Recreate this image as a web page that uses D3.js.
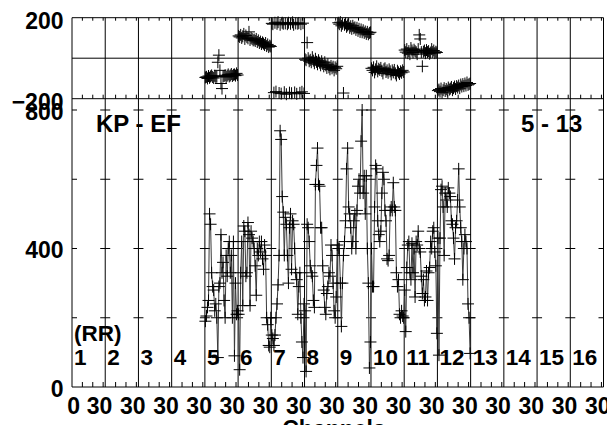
<!DOCTYPE html>
<html><head><meta charset="utf-8">
<script src="https://cdn.jsdelivr.net/npm/d3@7"></script>
<style>html,body{margin:0;padding:0;background:#fff;overflow:hidden}
text{font-family:"Liberation Sans",Arial,sans-serif;font-weight:bold;fill:#000}</style>
</head><body><svg id="c" width="607" height="425"></svg>
<script>
// ---- data ----
const ifNumbers = [1,2,3,4,5,6,7,8,9,10,11,12,13,14,15,16];
const dataIFs = [5,6,7,8,9,10,11,12];
const channelsPerIF = 32;
const xTickLabels = ["0","30","30","30","30","30","30","30","30","30","30","30","30","30","30","30","30"];
const yTopTicks = [-200, 200];
const yBotTicks = [0, 200, 400, 600, 800];
const yBotLabels = ["0", "", "400", "", "800"];

// amplitude per IF (channels 0..31)
const amp5  = [190,205,230,250,500,470,330,290,280,220,240,200,85,290,300,440,330,360,250,200,380,320,400,420,330,380,200,420,90,300,210,220];
const amp6  = [210,50,330,420,235,465,450,320,330,475,440,235,450,430,420,400,350,265,400,380,420,390,420,370,340,410,380,200,180,120,115,200];
const amp7  = [150,140,120,150,200,240,295,380,740,715,550,505,380,490,470,380,300,460,500,340,480,470,400,330,310,210,290,330,200,130,85,240];
const amp8  = [220,45,470,460,420,350,330,320,250,230,585,640,690,585,580,460,460,350,280,230,210,270,290,330,320,410,380,300,220,200,260,410];
const amp9  = [400,400,300,175,300,380,420,480,630,690,520,500,460,400,420,480,500,400,510,580,600,560,710,800,560,610,500,610,400,300,55,130];
const amp10 = [400,290,290,520,640,630,480,440,420,450,560,620,600,510,480,370,365,380,510,520,510,590,520,510,330,290,310,210,200,220,205,200];
const amp11 = [280,160,345,410,420,330,310,415,330,400,260,420,410,450,400,390,320,270,310,250,260,335,250,330,345,420,400,450,460,390,350,155];
const amp12 = [430,92,430,570,580,520,380,560,540,520,575,560,550,480,470,430,370,460,480,540,630,520,460,420,310,400,440,420,400,240,200,97];

// phase per IF (degrees)
const ph5  = [-95,-92,-100,-88,-97,-90,-85,-93,-98,-87,-92,-91,-20,15,-60,-125,-150,-90,-88,-84,-93,-86,-80,-90,-85,-78,-88,-82,-80,-86,-75,-83];
const ph6  = [110,105,115,100,108,120,95,112,104,98,130,90,100,95,88,92,85,95,80,88,75,82,70,78,72,65,75,60,68,55,62,58];
const ph7  = [172,168,-170,175,-165,170,178,-172,165,-175,175,170,-168,172,-178,168,175,-170,170,-173,177,165,-169,172,-176,170,174,-171,168,-166,173,-174];
const ph8  = [-5,-10,77,0,-15,-8,-20,5,-12,-25,-3,-18,-30,-10,-22,-35,-15,-28,-40,-20,-35,-48,-30,-45,-55,-38,-50,-42,-60,-45,-52,-40];
const ph9  = [175,168,178,160,170,-172,165,172,155,162,168,150,158,145,160,148,152,140,150,135,145,130,142,128,138,125,132,120,130,118,125,128];
const ph10 = [-50,-60,-45,-70,-55,-40,-65,-52,-58,-48,-62,-75,-55,-50,-68,-60,-72,-55,-65,-80,-60,-70,-58,-75,-85,-62,-70,-78,-65,-72,-60,-68];
const ph11 = [40,30,45,25,35,20,50,38,28,42,35,30,20,45,115,95,30,-40,32,38,25,40,30,35,22,28,45,30,38,25,32,28];
const ph12 = [-160,-155,-165,-150,-170,-158,-148,-162,-152,-160,-145,-155,-150,-142,-158,-148,-140,-152,-138,-145,-135,-148,-130,-140,-128,-138,-125,-135,-120,-132,-128,-125];

const ampSeries = [amp5,amp6,amp7,amp8,amp9,amp10,amp11,amp12];
const phSeries  = [ph5,ph6,ph7,ph8,ph9,ph10,ph11,ph12];

// ---- layout ----
const svg = d3.select("#c");
const L = 72, R = 603.5;
const x  = d3.scaleLinear().domain([0, 16*channelsPerIF]).range([L, R]);
const yT = d3.scaleLinear().domain([-200, 200]).range([98.7, 17.7]);
const yB = d3.scaleLinear().domain([0, 800]).range([387, 110]);

const bounds = d3.range(0, 17).map(i => i*channelsPerIF);
const minor = [];
d3.range(0,16).forEach(g => [10,20,30].forEach(m => minor.push(g*channelsPerIF + m)));

const frame = svg.append("g").attr("stroke","#000").attr("stroke-width",1).attr("fill","none");
frame.selectAll(".vb").data(bounds).join("line")
  .attr("x1", d=>x(d)).attr("x2", d=>x(d)).attr("y1", yT(200)).attr("y2", yB(0));
[yT(200), yT(0), yT(-200), yB(0)].forEach(yy =>
  frame.append("line").attr("x1",L).attr("x2",R).attr("y1",yy).attr("y2",yy));
frame.selectAll(".mt").data(minor).join("line")
  .attr("x1", d=>x(d)).attr("x2", d=>x(d)).attr("y1", yT(200)).attr("y2", yT(200)+3);
frame.selectAll(".mb").data(minor).join("line")
  .attr("x1", d=>x(d)).attr("x2", d=>x(d)).attr("y1", yT(-200)).attr("y2", yT(-200)-4);
frame.selectAll(".ma").data(minor).join("line")
  .attr("x1", d=>x(d)).attr("x2", d=>x(d)).attr("y1", yB(0)).attr("y2", yB(0)-5);
const crossT = [];
bounds.forEach(b => [200,400,600,800].forEach(v => crossT.push({b, v})));
frame.selectAll(".ct").data(crossT).join("line")
  .attr("x1", d => Math.max(L, x(d.b)-5)).attr("x2", d => Math.min(R, x(d.b)+5))
  .attr("y1", d => yB(d.v)).attr("y2", d => yB(d.v));

// ---- axes labels ----
const fs = "23px";
const axL = svg.append("g").attr("transform",`translate(${L},0)`)
  .call(d3.axisLeft(yB).tickValues(yBotTicks).tickSize(0).tickPadding(8.5).tickFormat((d,i)=>yBotLabels[i]));
axL.select(".domain").remove();
axL.selectAll("text").attr("font-size",fs).attr("dy","0.4em").attr("font-family",null);
const axT = svg.append("g").attr("transform",`translate(${L},0)`)
  .call(d3.axisLeft(yT).tickValues(yTopTicks).tickSize(0).tickPadding(8.5));
axT.select(".domain").remove();
axT.selectAll("text").attr("font-size",fs).attr("dy","0.48em").attr("font-family",null);

const labelPos = bounds.map((b,i) => i===0 ? b+1 : (i-1)*channelsPerIF + 26);
const axB = svg.append("g").attr("transform",`translate(0,${yB(0)})`)
  .call(d3.axisBottom(x).tickValues(labelPos).tickSize(0).tickPadding(10.7).tickFormat((d,i)=>xTickLabels[i]));
axB.select(".domain").remove();
axB.selectAll("text").attr("font-size",fs).attr("font-family",null);

svg.append("text").attr("x", 334).attr("y", 437).attr("text-anchor","middle")
  .attr("font-size","23px").text("Channels");

// ---- data marks ----
const pts = [];
const phPts = [];
dataIFs.forEach((ifn, gi) => {
  ampSeries[gi].forEach((v, c) => pts.push({ch:(ifn-1)*channelsPerIF + c + 0.5, v}));
  phSeries[gi].forEach((v, c) => phPts.push({ch:(ifn-1)*channelsPerIF + c + 0.5, v}));
});
svg.append("path").datum(pts)
  .attr("d", d3.line().x(d=>x(d.ch)).y(d=>yB(d.v)))
  .attr("fill","none").attr("stroke","#3a3a3a").attr("stroke-width",1);
function plus(g, data, ys) {
  g.selectAll("path").data(data).join("path")
    .attr("d", d => `M${x(d.ch)-6},${ys(d.v)}h12M${x(d.ch)},${ys(d.v)-6}v12`)
    .attr("stroke","#000").attr("stroke-width",1).attr("fill","none");
}
plus(svg.append("g"), pts, yB);
plus(svg.append("g"), phPts, yT);

// ---- text labels ----
svg.append("text").attr("x",96).attr("y",132).attr("font-size","24px").text("KP - EF");
svg.append("text").attr("x",521).attr("y",132).attr("font-size","24px").text("5 - 13");
svg.append("text").attr("x",74).attr("y",341).attr("font-size","22.5px").text("(RR)");
svg.selectAll(".ifn").data(ifNumbers).join("text")
  .attr("x", d => x((d-1)*channelsPerIF) + 2).attr("y", 365)
  .attr("font-size","22.5px").text(d => d);
</script></body></html>
